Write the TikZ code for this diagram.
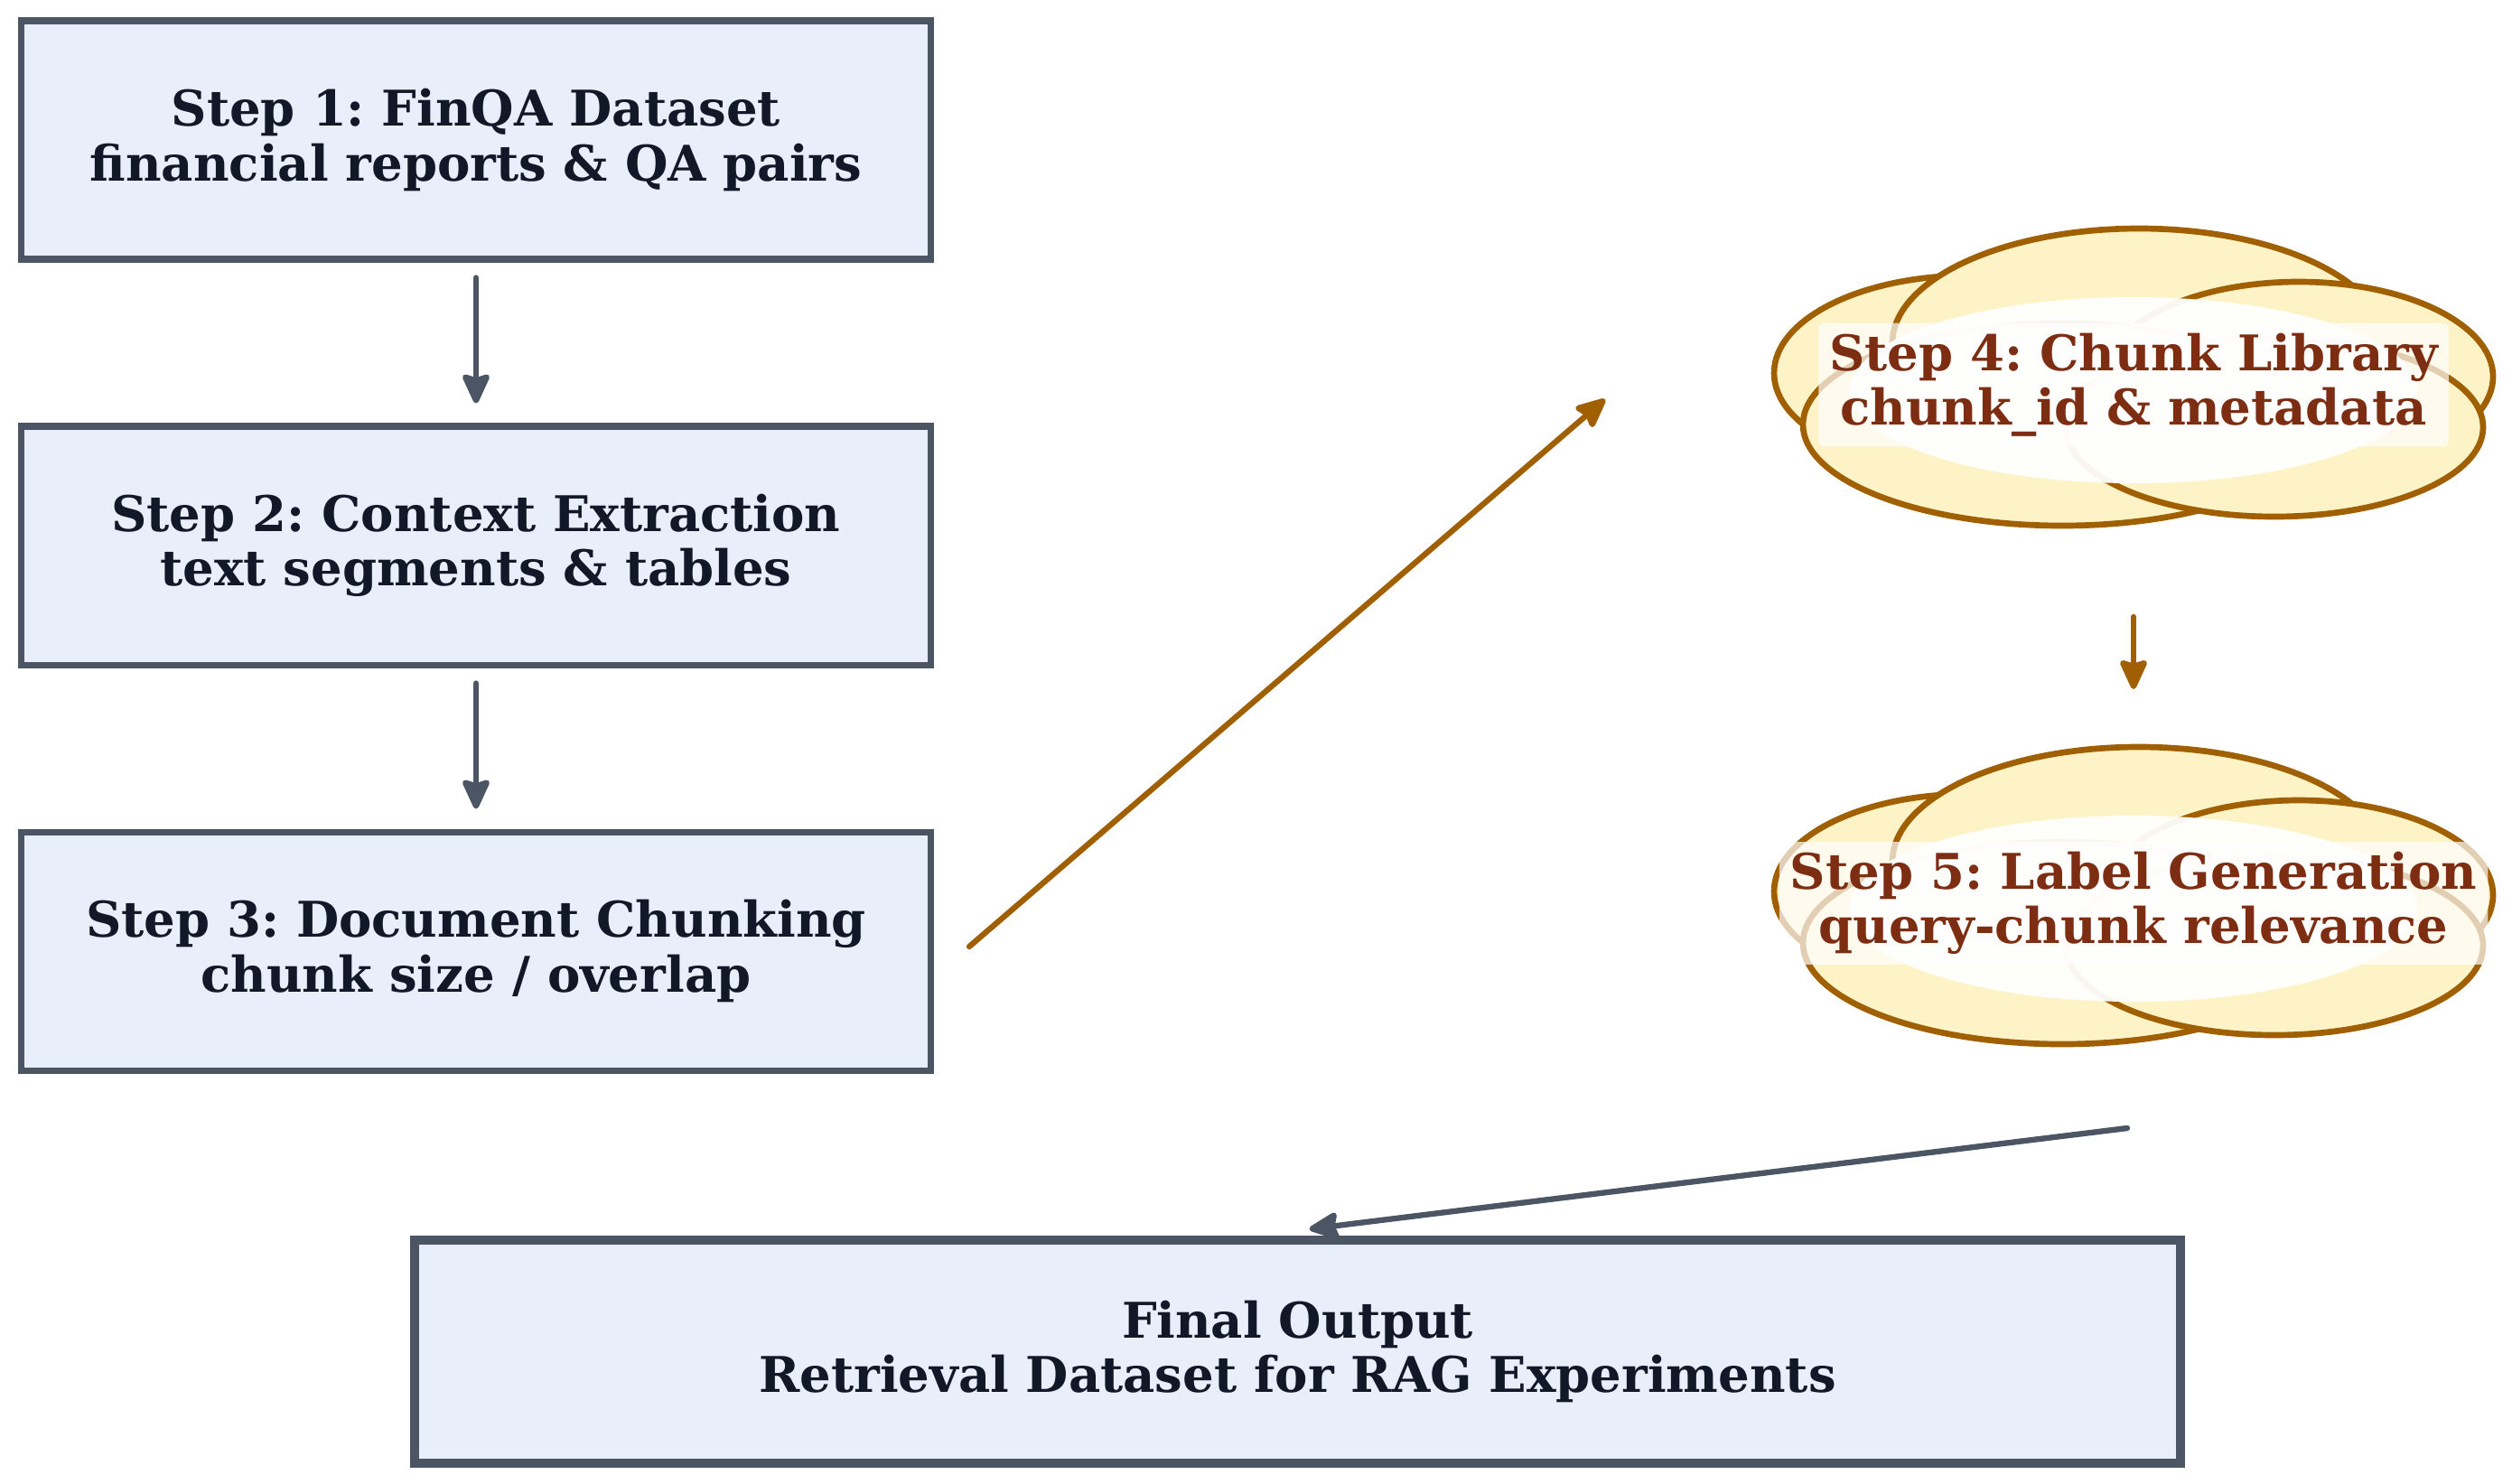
\documentclass[tikz,border=0pt]{standalone}
\usepackage{fontspec}
\setmainfont{DejaVu Serif}
\usepackage{xcolor}
\usepackage{tikz}
\usetikzlibrary{arrows.meta}

\definecolor{boxfill}{HTML}{E8EFFA}
\definecolor{boxline}{HTML}{4B5563}
\definecolor{boxtext}{HTML}{111827}
\definecolor{cloudfill}{HTML}{FEF3C7}
\definecolor{cloudline}{HTML}{A05F00}
\definecolor{cloudtext}{HTML}{7C2D12}
\frenchspacing

\tikzset{
    stepbox/.style={rectangle,draw=boxline,fill=boxfill,line width=2pt,minimum width=10.07cm,minimum height=2.64cm,text=boxtext,align=center,font=\bfseries\fontsize{15.5}{17.2}\selectfont},
    finalbox/.style={stepbox,line width=3pt,minimum width=19.55cm,minimum height=2.47cm},
    cloudpart/.style={draw=cloudline,fill=cloudfill,line width=1.9pt},
    steptext/.style={rectangle,rounded corners=0.06cm,fill=white,fill opacity=0.7,text opacity=1,text=cloudtext,align=center,inner xsep=0.12cm,inner ysep=0.11cm,font=\bfseries\fontsize{15.5}{17.2}\selectfont},
    arr/.style={-{Stealth[length=0.38cm,width=0.34cm,inset=0.05cm,round]},line width=1.8pt,line cap=round,draw=boxline}
}

\begin{document}
\begin{tikzpicture}
    \useasboundingbox (0,0) rectangle (27.81,-16.42);
    \node [stepbox] (S1) at (5.27,-1.55) {Step 1: FinQA Dataset\\financial reports \& QA pairs};
    \node [stepbox] (S2) at (5.27,-6.04) {Step 2: Context Extraction\\text segments \& tables};
    \node [stepbox] (S3) at (5.27,-10.53) {Step 3: Document Chunking\\chunk size / overlap};
    \node [finalbox] (F) at (14.365,-14.965) {Final Output\\Retrieval Dataset for RAG Experiments};
    \foreach \cy in {-4.26,-10.00} {
        \begin{scope}[shift={(23.62,\cy)}]
            \filldraw [cloudpart] (-1.82,0.13) ellipse [x radius=2.16,y radius=1.08];
            \filldraw [cloudpart] (0.06,0.46) ellipse [x radius=2.73,y radius=1.27];
            \filldraw [cloudpart] (1.83,0.09) ellipse [x radius=2.15,y radius=1.05];
            \filldraw [cloudpart] (-0.79,-0.44) ellipse [x radius=2.87,y radius=1.12];
            \filldraw [cloudpart] (1.56,-0.47) ellipse [x radius=2.31,y radius=0.99];
            \fill [white,opacity=0.94] (0,-0.06) ellipse [x radius=3.14,y radius=1.03];
        \end{scope}
    }
    \node [steptext] (S4) at (23.62,-4.26) {Step 4: Chunk Library\\chunk\_id \& metadata};
    \node [steptext] (S5) at (23.62,-10.00) {Step 5: Label Generation\\query-chunk relevance};
    \coordinate (in4) at (17.77,-4.42);
    \coordinate (out5) at (23.55,-12.49);
    \draw [arr,shorten <=0.17cm,shorten >=0.22cm] (S1.south) -- (S2.north);
    \draw [arr,shorten <=0.17cm,shorten >=0.22cm] (S2.south) -- (S3.north);
    \draw [arr,draw=cloudline] ([xshift=0.39cm,yshift=0.05cm]S3.east) -- (in4);
    \draw [arr,draw=cloudline,shorten <=2.57cm,shorten >=2.37cm] (S4.center) -- (S5.center);
    \draw [arr] (out5) -- ([xshift=0.13cm,yshift=0.07cm]F.north);
\end{tikzpicture}
\end{document}
